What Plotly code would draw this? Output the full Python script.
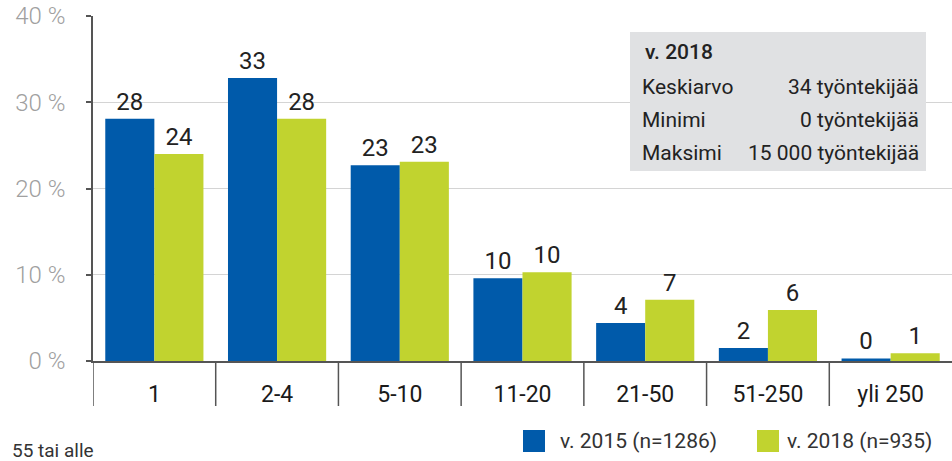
import plotly.graph_objects as go

# Company size classes (number of employees)
categories = ["1", "2-4", "5-10", "11-20", "21-50", "51-250", "yli 250"]

# Share of companies, %
share_2015 = [28.1, 32.8, 22.7, 9.6, 4.4, 1.5, 0.3]
share_2018 = [24.0, 28.1, 23.1, 10.3, 7.1, 5.9, 0.9]

series_names = ["v. 2015 (n=1286)", "v. 2018 (n=935)"]
y_ticks = [0, 10, 20, 30, 40]
y_tick_text = [f"{v} %" for v in y_ticks]

# Summary box rows for 2018
box_title = "v. 2018"
box_labels = ["Keskiarvo", "Minimi", "Maksimi"]
box_values = ["34 työntekijää", "0 työntekijää", "15 000 työntekijää"]

footnote = "55 tai alle"

BLUE = "#005aaa"
GREEN = "#c1d32f"
AXIS = "#555555"
TEXT = "#222222"
FONT = "Roboto"

W, H = 952, 461
M_L, M_R, M_T, M_B = 93, 0, 16, 100
plot_h = H - M_T - M_B


def py(px):
    """Pixel row -> paper y."""
    return (H - M_B - px) / plot_h


def px_x(px):
    """Pixel column -> paper x."""
    return (px - M_L) / (W - M_L - M_R)


fig = go.Figure()
for name, vals, col in [(series_names[0], share_2015, BLUE),
                        (series_names[1], share_2018, GREEN)]:
    fig.add_trace(go.Bar(
        x=categories, y=vals, name=name, marker=dict(color=col, line=dict(width=0)),
        text=vals, texttemplate="%{y:.0f}", textposition="outside",
        textfont=dict(family=FONT, size=24, color=TEXT, weight=400),
        cliponaxis=False, showlegend=False,
    ))

shapes = []
# category dividers below the baseline
for i in range(len(categories)):
    shapes.append(dict(type="line", xref="x", yref="paper",
                       x0=i - 0.5, x1=i - 0.5, y0=py(406), y1=0,
                       line=dict(color=AXIS, width=1.5)))

# summary box
shapes.append(dict(type="rect", xref="paper", yref="paper",
                   x0=px_x(630), x1=px_x(926), y0=py(171), y1=py(32),
                   fillcolor="#e0e1e3", line=dict(width=0), layer="above"))

# legend swatches
for x0, col in [(523, BLUE), (757, GREEN)]:
    shapes.append(dict(type="rect", xref="paper", yref="paper",
                       x0=px_x(x0), x1=px_x(x0 + 22), y0=py(452), y1=py(430),
                       fillcolor=col, line=dict(width=0)))

annotations = []
annotations.append(dict(text=box_title, xref="paper", yref="paper",
                        x=px_x(643), y=py(52), xanchor="left", yanchor="middle",
                        showarrow=False,
                        font=dict(family=FONT, size=21, color=TEXT, weight=500)))
for k, (lab, val) in enumerate(zip(box_labels, box_values)):
    yy = py(87 + k * 33)
    annotations.append(dict(text=lab, xref="paper", yref="paper", x=px_x(640), y=yy,
                            xanchor="left", yanchor="middle", showarrow=False,
                            font=dict(family=FONT, size=21, color=TEXT)))
    annotations.append(dict(text=val, xref="paper", yref="paper", x=px_x(921), y=yy,
                            xanchor="right", yanchor="middle", showarrow=False,
                            font=dict(family=FONT, size=21, color=TEXT)))

# legend texts
for x0, name in [(558, series_names[0]), (785, series_names[1])]:
    annotations.append(dict(text=name, xref="paper", yref="paper", x=px_x(x0), y=py(441),
                            xanchor="left", yanchor="middle", showarrow=False,
                            font=dict(family=FONT, size=21, color="#333333")))

annotations.append(dict(text=footnote, xref="paper", yref="paper", x=px_x(10), y=py(450),
                        xanchor="left", yanchor="middle", showarrow=False,
                        font=dict(family=FONT, size=19, color="#333333")))

fig.update_layout(
    width=W, height=H,
    margin=dict(l=M_L, r=M_R, t=M_T, b=M_B),
    paper_bgcolor="white", plot_bgcolor="white",
    barmode="group", bargap=0.2, bargroupgap=0,
    font=dict(family=FONT, color=TEXT),
    shapes=shapes, annotations=annotations,
    xaxis=dict(
        showline=True, linecolor=AXIS, linewidth=1.5, showgrid=False,
        ticks="", ticklabelstandoff=12,
        tickfont=dict(family=FONT, size=23, color="#1a1a1a", weight=400),
        range=[-0.5, len(categories) - 0.5],
    ),
    yaxis=dict(
        range=[0, 40], tickvals=y_ticks, ticktext=y_tick_text,
        showline=True, linecolor=AXIS, linewidth=1.5,
        showgrid=True, gridcolor="#d4d4d4", gridwidth=1, zeroline=False,
        ticks="outside", ticklen=5, tickcolor=AXIS, tickwidth=1.5,
        ticklabelstandoff=16,
        tickfont=dict(family=FONT, size=24, color="#a0a0a0", weight=300),
    ),
)

fig.write_html("out.html")
